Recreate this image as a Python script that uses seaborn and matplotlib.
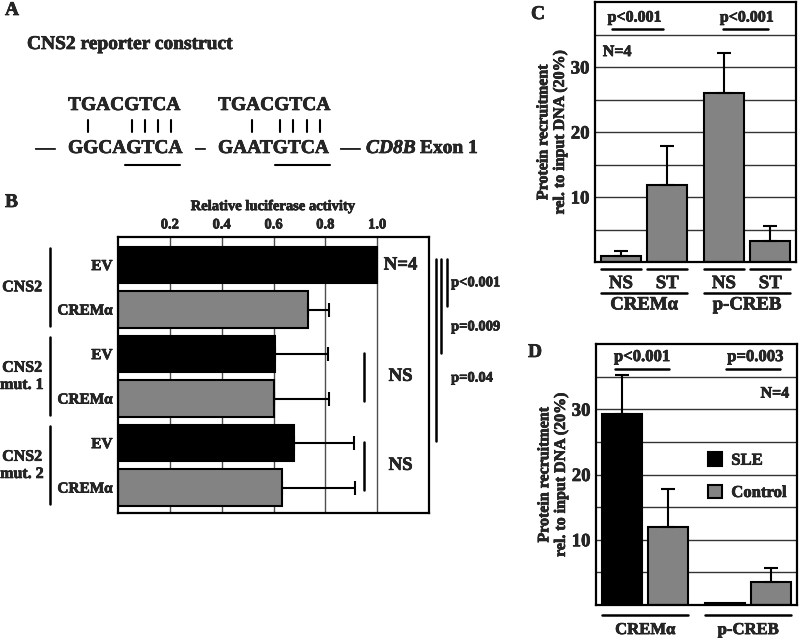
import numpy as np
import pandas as pd
import seaborn as sns
import matplotlib.pyplot as plt
from matplotlib import transforms
from matplotlib import patheffects
from matplotlib.lines import Line2D
from matplotlib.text import Text

# Panel B: relative luciferase activity
b_groups = ["CNS2", "CNS2\nmut. 1", "CNS2\nmut. 2"]
b_vectors = ["EV", "CREMα"]
b_activity = [1.0, 0.735, 0.607, 0.60, 0.68, 0.633]
b_error = [0.0, 0.08, 0.203, 0.216, 0.229, 0.282]
b_pvalues = ["p<0.001", "p=0.009", "p=0.04"]

# Panel C: ChIP, non-stimulated vs stimulated
c_proteins = ["CREMα", "p-CREB"]
c_conditions = ["NS", "ST"]
c_values = [1.0, 11.8, 26.0, 3.3]
c_errors = [0.75, 6.0, 6.2, 2.2]
c_pvalues = ["p<0.001", "p<0.001"]

# Panel D: ChIP, SLE vs control
d_proteins = ["CREMα", "p-CREB"]
d_groups = ["SLE", "Control"]
d_values = [29.2, 11.9, 0.3, 3.5]
d_errors = [6.0, 5.9, 0.0, 2.1]
d_pvalues = ["p<0.001", "p=0.003"]

GRAY = "#838383"
BOLD = "bold"

sns.set_theme(style="white")
plt.rcParams["font.family"] = ["Liberation Serif", "DejaVu Serif"]
plt.rcParams["font.weight"] = "bold"
plt.rcParams["axes.labelweight"] = "bold"

fig = plt.figure(figsize=(8, 6.4), dpi=100)


def fx(x):
    return x / 800


def fy(y):
    return 1 - y / 640


def fline(xs, ys, lw=1.5):
    fig.add_artist(Line2D([fx(x) for x in xs], [fy(y) for y in ys],
                          transform=fig.transFigure, color="black", lw=lw))


def ftext(x, y, s, size=14, **kw):
    fig.text(fx(x), fy(y), s, fontsize=size, va="baseline", fontweight=BOLD, **kw)


def box(ax):
    for s in ax.spines.values():
        s.set_color("black")
        s.set_linewidth(1.6)


# ---------------- Panel A ----------------
ftext(5, 15, "A")
ftext(27, 49, "CNS2 reporter construct")
for x0 in (68, 218):
    ftext(x0, 110, "TGACGTCA")
ftext(45, 153, "—", ha="center")
ftext(68, 153, "GGCAGTCA")
ftext(200, 153, "–", ha="center")
ftext(218, 153, "GAATGTCA")
ftext(350, 153, "—", ha="center")
ftext(366, 153, "CD8B", style="italic")
ftext(420, 153, "Exon 1")
for x in (88, 132, 145, 158, 171, 252, 280, 293, 307, 320):
    fline([x, x], [120, 132])
fline([125, 180], [165, 165])
fline([275, 330], [165, 165])

# ---------------- Panel B ----------------
ftext(5, 207, "B")
axb = fig.add_axes([fx(118), fy(513), 311 / 800, 276 / 640])
df_b = pd.DataFrame({
    "row": [f"{g}|{v}" for g in b_groups for v in b_vectors],
    "vector": b_vectors * len(b_groups),
    "activity": b_activity,
})
sns.barplot(data=df_b, x="activity", y="row", hue="vector",
            palette={"EV": "black", "CREMα": GRAY}, dodge=False, width=0.82,
            edgecolor="black", linewidth=1.5, errorbar=None, legend=False, ax=axb)
bars_b = sorted(axb.patches, key=lambda p: p.get_y())
for p, err in zip(bars_b, b_error):
    if err > 0:
        axb.errorbar(p.get_width(), p.get_y() + p.get_height() / 2,
                     xerr=[[0], [err]], fmt="none", ecolor="black",
                     elinewidth=1.5, capsize=5, capthick=1.5)
axb.set_xlim(0, 1.2)
axb.set_ylim(5.57, -0.63)
axb.set_xticks([0.2, 0.4, 0.6, 0.8, 1.0])
axb.set_xticklabels(["0.2", "0.4", "0.6", "0.8", "1.0"], fontsize=10.5,
                    fontweight=BOLD)
axb.xaxis.tick_top()
axb.xaxis.set_label_position("top")
axb.set_xlabel("Relative luciferase activity", fontsize=10.5, labelpad=6,
               fontweight=BOLD)
axb.set_ylabel("")
axb.set_yticks(range(len(b_activity)))
axb.set_yticklabels(b_vectors * len(b_groups), fontsize=11, fontweight=BOLD)
axb.tick_params(length=0, pad=4)
axb.grid(axis="x", color="0.3", lw=1)
axb.set_axisbelow(True)
box(axb)

# group labels with brackets on the left
for i, g in enumerate(b_groups):
    axb.text(-0.37, 2 * i + 0.5, g, ha="center", va="center", fontsize=11.5,
             multialignment="center", clip_on=False, fontweight=BOLD,
             linespacing=1.1)
    axb.plot([-0.264, -0.264], [2 * i - 0.38, 2 * i + 1.37], color="black",
             lw=1.8, clip_on=False)
axb.text(1.09, 0, "N=4", ha="center", va="center", fontsize=13.5,
         fontweight=BOLD)
for i in (1, 2):
    axb.text(1.09, 2 * i + 0.5, "NS", ha="center", va="center", fontsize=13.5,
             fontweight=BOLD)
    axb.plot([0.95, 0.95], [2 * i - 0.02, 2 * i + 1.06], color="black", lw=1.8)
# significance lines outside the box
for xl, yl in zip((1.27, 1.247, 1.227), (0.92, 1.98, 3.96)):
    axb.plot([xl, xl], [-0.13, yl], color="black", lw=1.8, clip_on=False)
for yt, txt in zip((0.4, 1.39, 2.54), b_pvalues):
    axb.text(1.285, yt, txt, ha="left", va="center", fontsize=10.5,
             clip_on=False, fontweight=BOLD)


# ---------------- Panels C and D ----------------
def chip_panel(ax, proteins, conds, values, errors, palette, legend):
    df = pd.DataFrame({
        "protein": np.repeat(proteins, len(conds)),
        "cond": conds * len(proteins),
        "value": values,
    })
    sns.barplot(data=df, x="protein", y="value", hue="cond", palette=palette,
                width=0.9, gap=0.13, edgecolor="black", linewidth=1.5,
                errorbar=None, legend=legend, ax=ax)
    bars = sorted([p for p in ax.patches if p.get_height() > 0],
                  key=lambda p: p.get_x())
    for p, err in zip(bars, errors):
        if err > 0:
            ax.errorbar(p.get_x() + p.get_width() / 2, p.get_height(),
                        yerr=[[0], [err]], fmt="none", ecolor="black",
                        elinewidth=1.5, capsize=5, capthick=1.5)
    ax.set_xlim(-0.476, 1.476)
    ax.set_ylim(0, 40)
    ax.set_yticks(np.arange(5, 40, 5))
    ax.set_yticklabels(["", "10", "", "20", "", "30", ""], fontsize=13.5,
                       fontweight=BOLD)
    ax.set_xticks([])
    ax.set_xlabel("")
    ax.set_ylabel("Protein recruitment\nrel. to input DNA (20%)", fontsize=11.5,
                  labelpad=2, linespacing=1.05, fontweight=BOLD)
    ax.tick_params(length=0, pad=4)
    ax.grid(axis="y", color="0.2", lw=1)
    ax.set_axisbelow(True)
    box(ax)
    return bars


axc = fig.add_axes([fx(595), fy(262), 201 / 800, 260 / 640])
bars_c = chip_panel(axc, c_proteins, c_conditions, c_values, c_errors,
                    {"NS": GRAY, "ST": GRAY}, False)
tc = transforms.blended_transform_factory(axc.transData, axc.transAxes)
for p, cond in zip(bars_c, c_conditions * 2):
    x0, x1 = p.get_x(), p.get_x() + p.get_width()
    axc.plot([x0, x1], [-0.027, -0.027], transform=tc, color="black", lw=1.8,
             clip_on=False)
    axc.text((x0 + x1) / 2, -0.083, cond, transform=tc, ha="center",
             va="center", fontsize=13.5, fontweight=BOLD)
for i, prot in enumerate(c_proteins):
    x0 = bars_c[2 * i].get_x()
    x1 = bars_c[2 * i + 1].get_x() + bars_c[2 * i + 1].get_width()
    axc.plot([x0, x1], [-0.12, -0.12], transform=tc, color="black", lw=1.8,
             clip_on=False)
    axc.text((x0 + x1) / 2, -0.165, prot, transform=tc, ha="center",
             va="center", fontsize=13.5, fontweight=BOLD)
for xc, txt, (u0, u1) in zip((-0.09, 1.0), c_pvalues,
                             ((-0.31, 0.18), (0.77, 1.2))):
    axc.text(xc, 37.6, txt, ha="center", va="center", fontsize=11.5,
             fontweight=BOLD)
    axc.plot([u0, u1], [35.9, 35.9], color="black", lw=1.8)
axc.text(-0.40, 32.3, "N=4", ha="left", va="center", fontsize=11.5,
         fontweight=BOLD)
ftext(531, 19, "C")

axd = fig.add_axes([fx(596), fy(605), 201 / 800, 261 / 640])
bars_d = chip_panel(axd, d_proteins, d_groups, d_values, d_errors,
                    {"SLE": "black", "Control": GRAY}, True)
sns.move_legend(axd, loc="upper left", bbox_to_anchor=(0.557, 0.585),
                frameon=False, title=None, handlelength=0.85,
                handleheight=0.85, handletextpad=0.55, labelspacing=0.95,
                borderpad=0, borderaxespad=0,
                prop={"size": 12, "weight": "bold"})
td = transforms.blended_transform_factory(axd.transData, axd.transAxes)
for i, prot in enumerate(d_proteins):
    x0 = bars_d[2 * i].get_x()
    x1 = bars_d[2 * i + 1].get_x() + bars_d[2 * i + 1].get_width()
    axd.plot([x0, x1], [-0.038, -0.038], transform=td, color="black", lw=1.8,
             clip_on=False)
    axd.text((x0 + x1) / 2, -0.096, prot, transform=td, ha="center",
             va="center", fontsize=12, fontweight=BOLD)
for xc, txt, (u0, u1) in zip((-0.03, 1.07), d_pvalues,
                             ((-0.29, 0.23), (0.79, 1.31))):
    axd.text(xc, 38.0, txt, ha="center", va="center", fontsize=12,
             fontweight=BOLD)
    axd.plot([u0, u1], [36.2, 36.2], color="black", lw=1.8)
axd.text(1.40, 32.4, "N=4", ha="right", va="center", fontsize=11.5,
         fontweight=BOLD)
ftext(528, 357, "D")

# slightly heavier strokes, like the scanned figure's bold type
for t in fig.findobj(Text):
    t.set_path_effects([patheffects.withStroke(linewidth=0.45,
                                               foreground="black")])

fig.savefig("out.png", dpi=100)
